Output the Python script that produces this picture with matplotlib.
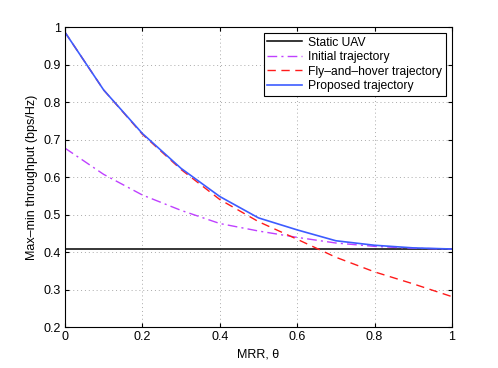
import matplotlib.pyplot as plt
from matplotlib.ticker import FuncFormatter

plt.rcParams['font.family'] = ['Liberation Sans', 'DejaVu Sans']
plt.rcParams['mathtext.fontset'] = 'custom'
plt.rcParams['mathtext.rm'] = 'Liberation Sans'

# MRR values
theta = [0, 0.1, 0.2, 0.3, 0.4, 0.5, 0.6, 0.7, 0.8, 0.9, 1.0]

static_uav = [0.408] * len(theta)
initial = [0.677, 0.607, 0.552, 0.511, 0.476, 0.456, 0.439, 0.424, 0.415, 0.410, 0.408]
fly_hover = [0.986, 0.832, 0.714, 0.620, 0.540, 0.481, 0.434, 0.386, 0.347, 0.315, 0.281]
proposed = [0.986, 0.832, 0.716, 0.623, 0.548, 0.491, 0.459, 0.430, 0.418, 0.411, 0.408]

fig = plt.figure(figsize=(4.98, 3.68), dpi=100)
ax = fig.add_axes([0.1305, 0.1114, 0.777, 0.8152])

ax.plot(theta, static_uav, color='black', lw=1.1, label='Static UAV')
ax.plot(theta, initial, color='#bf40ff', lw=1.0, ls=(0, (7, 3, 1.5, 3)), label='Initial trajectory')
ax.plot(theta, fly_hover, color='#ff1a1a', lw=1.0, ls=(0, (6, 4)), label='Fly\u2013and\u2013hover trajectory')
ax.plot(theta, proposed, color='#3d5cff', lw=1.2, label='Proposed trajectory')

ax.set_xlim(0, 1)
ax.set_ylim(0.2, 1)
ax.set_xticks([0, 0.2, 0.4, 0.6, 0.8, 1])
ax.set_yticks([0.2, 0.3, 0.4, 0.5, 0.6, 0.7, 0.8, 0.9, 1])
fmt = FuncFormatter(lambda v, p: '%g' % round(v, 2))
ax.xaxis.set_major_formatter(fmt)
ax.yaxis.set_major_formatter(fmt)
ax.tick_params(direction='in', top=True, right=True, length=3, labelsize=9, pad=3)
ax.grid(True, color='#aaaaaa', ls=(0, (1, 3)), lw=0.7)
for s in ax.spines.values():
    s.set_linewidth(0.8)

ax.set_xlabel('MRR, \u03b8', fontsize=9, labelpad=4)
ax.set_ylabel('Max\u2013min throughput (bps/Hz)', fontsize=9, labelpad=4)

leg = ax.legend(loc='upper right', fontsize=8.7, fancybox=False, framealpha=1,
                edgecolor='black', borderaxespad=0.5, handlelength=2.9,
                labelspacing=0.2, borderpad=0.3, handletextpad=0.5)
leg.get_frame().set_linewidth(0.8)

fig.savefig('out.png', dpi=100)
